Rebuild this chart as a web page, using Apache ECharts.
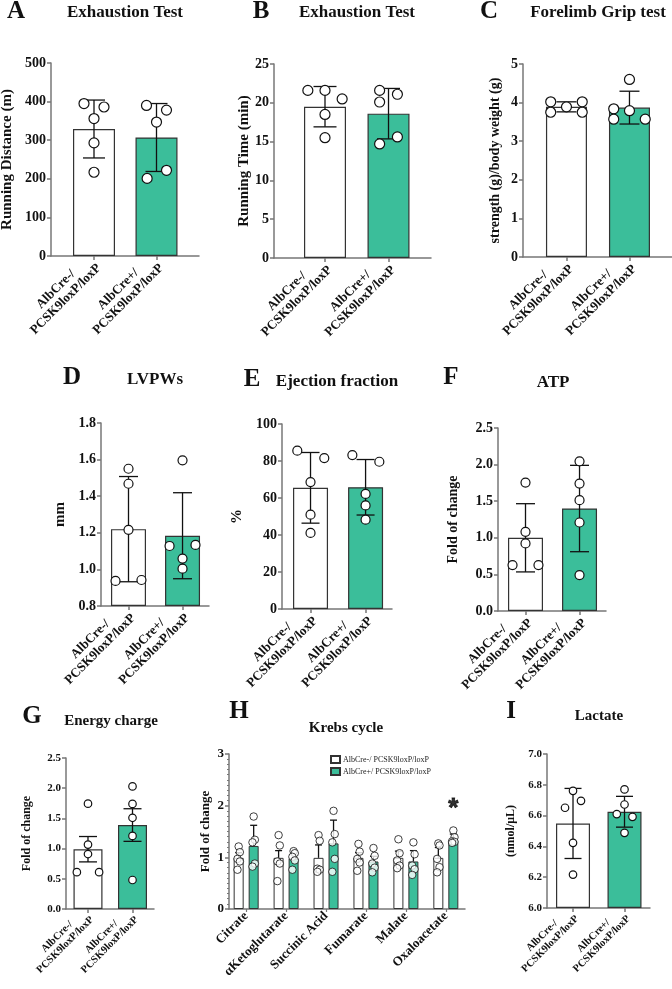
<!DOCTYPE html>
<html><head><meta charset="utf-8">
<script src="https://cdn.jsdelivr.net/npm/echarts@6/dist/echarts.min.js"></script>
<style>html,body{margin:0;padding:0;background:#fff}#c{width:672px;height:989px}</style>
</head><body><div id="c"></div>
<script>
// ---------- data ----------
const groupLine1 = ['AlbCre-/', 'AlbCre+/'];
const groupLine2 = ['PCSK9loxP/loxP', 'PCSK9loxP/loxP'];

// A: Exhaustion Test, running distance
const aMean = [329, 307];
const aSD = [75, 88];
const aPts = [[395, 386, 356, 293, 217], [390, 378, 347, 201, 222]];
const aJit = [[-0.16, 0.16, 0, 0, 0], [-0.16, 0.16, 0, -0.15, 0.16]];
// B: Exhaustion Test, running time
const bMean = [19.5, 18.6];
const bSD = [2.6, 3.25];
const bPts = [[21.6, 21.6, 20.5, 18.5, 15.5], [21.6, 20.1, 21.1, 14.7, 15.6]];
const bJit = [[-0.27, 0, 0.27, 0, 0], [-0.14, -0.14, 0.14, -0.14, 0.14]];
// C: Forelimb grip
const cMean = [3.89, 3.87];
const cSD = [0.13, 0.425];
const cPts = [[4.02, 4.02, 3.89, 3.75, 3.75], [4.6, 3.84, 3.79, 3.57, 3.57]];
const cJit = [[-0.25, 0.25, 0, -0.25, 0.25], [0, -0.25, 0, -0.25, 0.25]];
// D: LVPWs
const dMean = [1.22, 1.184];
const dSD = [0.2875, 0.235];
const dPts = [[1.55, 1.468, 1.216, 0.937, 0.942], [1.596, 1.128, 1.134, 1.059, 1.004]];
const dJit = [[0, 0, 0, -0.24, 0.24], [0, -0.24, 0.24, 0, 0]];
// E: Ejection fraction
const eMean = [65.5, 65.8];
const eSD = [19.1, 15];
const ePts = [[85.6, 81.6, 68.6, 51, 41.1], [83.2, 79.6, 62.2, 56, 48.3]];
const eJit = [[-0.24, 0.25, 0, 0, 0], [-0.24, 0.25, 0, 0, 0]];
// F: ATP
const fMean = [1.0, 1.4];
const fSD = [0.466, 0.59];
const fPts = [[1.755, 1.082, 0.923, 0.627, 0.627], [2.045, 1.741, 1.514, 1.209, 0.491]];
const fJit = [[0, 0, 0, -0.24, 0.24], [0, 0, 0, 0, 0]];
// G: Energy charge
const gMean = [0.99, 1.39];
const gSE = [0.21, 0.27];
const gPts = [[1.744, 1.067, 0.91, 0.61, 0.61], [2.03, 1.74, 1.51, 1.21, 0.48]];
const gJit = [[0, 0, 0, -0.25, 0.25], [0, 0, 0, 0, 0]];
// H: Krebs cycle
const hCats = ['Citrate', 'αKetoglutarate', 'Succinic Acid', 'Fumarate', 'Malate', 'Oxaloacetate'];
const hNames = ['AlbCre-/ PCSK9loxP/loxP', 'AlbCre+/ PCSK9loxP/loxP'];
const hMean1 = [0.99, 0.99, 0.99, 0.99, 0.99, 0.99];
const hMean2 = [1.22, 0.98, 1.27, 0.92, 0.92, 1.33];
const hErr1 = [0.1, 0.14, 0.25, 0.1, 0.13, 0.2];
const hErr2 = [0.4, 0.1, 0.45, 0.1, 0.21, 0.12];
const hPts1 = [[1.21, 1.10, 0.97, 0.92, 0.76], [1.43, 1.23, 0.92, 0.88, 0.54], [1.43, 1.32, 0.78, 0.76, 0.72],
               [1.26, 1.11, 0.97, 0.9, 0.74], [1.35, 1.08, 0.94, 0.84, 0.79], [1.27, 1.23, 0.97, 0.81, 0.71]];
const hPts2 = [[1.79, 1.34, 1.29, 0.88, 0.82], [1.12, 1.08, 1.01, 0.94, 0.76], [1.9, 1.45, 1.29, 0.97, 0.72],
               [1.18, 1.03, 0.88, 0.8, 0.71], [1.29, 1.06, 0.84, 0.77, 0.66], [1.52, 1.39, 1.31, 1.3, 1.28]];
const hJit = [0, 0.03, -0.03, 0.03, -0.03];
const hStar = [[5, 2.05]];
// I: Lactate
const iMean = [6.549, 6.625];
const iSD = [0.2275, 0.1];
const iPts = [[6.761, 6.696, 6.651, 6.423, 6.217], [6.77, 6.672, 6.61, 6.592, 6.488]];
const iJit = [[0, 0.155, -0.155, 0, 0], [0, 0, -0.15, 0.155, 0]];

// ---------- build ----------
const TEAL = '#3BBE9A';
const AXIS = '#777';
const FONT = '"Liberation Serif","Times New Roman",serif';
const grids = [], xAxes = [], yAxes = [], series = [], graphics = [];

function errRender(cap, dx, lowCap) {
  return function (params, api) {
    const x = api.value(0), lo = api.value(1), hi = api.value(2);
    const a = api.coord([x, lo]), b = api.coord([x, hi]);
    const cx = a[0] + dx;
    const st = { stroke: '#111', lineWidth: 1.3 };
    const kids = [
      { type: 'line', shape: { x1: cx, y1: a[1], x2: cx, y2: b[1] }, style: st },
      { type: 'line', shape: { x1: cx - cap / 2, y1: b[1], x2: cx + cap / 2, y2: b[1] }, style: st }
    ];
    if (lowCap) kids.push({ type: 'line', shape: { x1: cx - cap / 2, y1: a[1], x2: cx + cap / 2, y2: a[1] }, style: st });
    return { type: 'group', children: kids };
  };
}

function yAxisCfg(i, o) {
  return {
    type: 'value', gridIndex: i, min: o.yMin, max: o.yMax, interval: o.yStep, startValue: o.yMin,
    name: o.yName, nameLocation: 'middle', nameRotate: 90, nameGap: o.nameGap, nameMoveOverlap: false,
    nameTextStyle: { fontFamily: FONT, fontWeight: 'bold', fontSize: o.nameFont, color: '#111' },
    axisLine: { show: true, onZero: false, lineStyle: { color: AXIS, width: 1.5 } },
    axisTick: { show: true, length: 4, lineStyle: { color: AXIS, width: 1.5 } },
    minorTick: { show: !!o.minor, splitNumber: 10, length: 2, lineStyle: { color: AXIS, width: 1 } },
    axisLabel: { fontFamily: FONT, fontWeight: 'bold', fontSize: o.tickFont, color: '#111', margin: 5,
      formatter: v => o.dec ? v.toFixed(o.dec) : String(Math.round(v)) },
    splitLine: { show: false }
  };
}

function twoGroup(o) {
  const i = grids.length;
  grids.push({ left: o.left, top: o.top, width: o.width, height: o.height, outerBoundsMode: 'none', containLabel: false });
  xAxes.push({
    type: 'value', gridIndex: i, min: o.xMin, max: o.xMax,
    axisLine: { show: true, onZero: false, lineStyle: { color: AXIS, width: 1.5 } },
    axisTick: { show: true, customValues: [0, 1], length: 4, lineStyle: { color: AXIS, width: 1.5 } },
    axisLabel: {
      customValues: [0, 1], rotate: 45, margin: 5, hideOverlap: false,
      formatter: v => '{a|' + groupLine1[Math.round(v)] + '}\n{a|' + groupLine2[Math.round(v)] + '}',
      rich: { a: { align: 'center', fontFamily: FONT, fontWeight: 'bold', fontSize: o.xFont, color: '#111', lineHeight: o.xFont + 1 } }
    },
    splitLine: { show: false }
  });
  yAxes.push(yAxisCfg(i, o));
  series.push({
    type: 'bar', xAxisIndex: i, yAxisIndex: i, barWidth: o.barW, z: 2, name: 'bars' + i,
    data: o.mean.map((m, k) => ({ value: [k, m], itemStyle: { color: k === 0 ? '#fff' : TEAL } })),
    itemStyle: { borderColor: '#333', borderWidth: 1.2 }
  });
  series.push({
    type: 'custom', xAxisIndex: i, yAxisIndex: i, z: 3, clip: false, name: 'err' + i,
    renderItem: errRender(o.cap, 0, true), encode: { x: 0, y: [1, 2] },
    data: o.mean.map((m, k) => [k, m - o.err[k], m + o.err[k]])
  });
  const pts = [];
  o.pts.forEach((g, k) => g.forEach((v, j) => pts.push([k + o.jit[k][j], v])));
  series.push({
    type: 'scatter', xAxisIndex: i, yAxisIndex: i, z: 4, name: 'pts' + i, symbol: 'circle', symbolSize: o.sym, clip: false,
    itemStyle: { color: '#fff', borderColor: '#111', borderWidth: 1.2, opacity: 1 }, data: pts
  });
}

twoGroup({ left: 51, top: 63, width: 148, height: 193, xMin: -0.688, xMax: 1.68, yMin: 0, yMax: 500, yStep: 100,
  mean: aMean, err: aSD, pts: aPts, jit: aJit, barW: 42, cap: 22, sym: 10, yName: 'Running Distance (m)', nameGap: 36,
  nameFont: 15, tickFont: 14, xFont: 13 });
twoGroup({ left: 274, top: 64, width: 157, height: 194, xMin: -0.803, xMax: 1.669, yMin: 0, yMax: 25, yStep: 5,
  mean: bMean, err: bSD, pts: bPts, jit: bJit, barW: 42, cap: 23, sym: 10, yName: 'Running Time (min)', nameGap: 22,
  nameFont: 15, tickFont: 14, xFont: 13 });
twoGroup({ left: 523, top: 64, width: 149, height: 193, xMin: -0.69, xMax: 1.675, yMin: 0, yMax: 5, yStep: 1,
  mean: cMean, err: cSD, pts: cPts, jit: cJit, barW: 41, cap: 20, sym: 10, yName: 'strength (g)/body weight (g)', nameGap: 21,
  nameFont: 14, tickFont: 14, xFont: 13 });
twoGroup({ left: 101, top: 423, width: 108, height: 183, xMin: -0.509, xMax: 1.49, yMin: 0.8, yMax: 1.8, yStep: 0.2, dec: 1,
  mean: dMean, err: dSD, pts: dPts, jit: dJit, barW: 35, cap: 19, sym: 9, yName: 'mm', nameGap: 33,
  nameFont: 15, tickFont: 14, xFont: 13 });
twoGroup({ left: 282, top: 424, width: 110, height: 185, xMin: -0.518, xMax: 1.48, yMin: 0, yMax: 100, yStep: 20,
  mean: eMean, err: eSD, pts: ePts, jit: eJit, barW: 35, cap: 18, sym: 9, yName: '%', nameGap: 37,
  nameFont: 15, tickFont: 14, xFont: 13 });
twoGroup({ left: 498, top: 428, width: 108, height: 183, xMin: -0.509, xMax: 1.49, yMin: 0, yMax: 2.5, yStep: 0.5, dec: 1,
  mean: fMean, err: fSD, pts: fPts, jit: fJit, barW: 35, cap: 19, sym: 9, yName: 'Fold of change', nameGap: 38,
  nameFont: 14, tickFont: 14, xFont: 13 });
twoGroup({ left: 66, top: 758, width: 88, height: 151, xMin: -0.494, xMax: 1.483, yMin: 0, yMax: 2.5, yStep: 0.5, dec: 1,
  mean: gMean, err: gSE, pts: gPts, jit: gJit, barW: 29, cap: 18, sym: 7.5, yName: 'Fold of change', nameGap: 33,
  nameFont: 12, tickFont: 11, xFont: 10.5 });
twoGroup({ left: 547, top: 754, width: 103, height: 154, xMin: -0.505, xMax: 1.495, yMin: 6, yMax: 7, yStep: 0.2, dec: 1,
  mean: iMean, err: iSD, pts: iPts, jit: iJit, barW: 34, cap: 17, sym: 7.5, yName: '(nmol/μL)', nameGap: 30,
  nameFont: 12, tickFont: 11, xFont: 10.5 });

// H panel (grouped)
(function () {
  const i = grids.length;
  const o = { yMin: 0, yMax: 3, yStep: 1, yName: 'Fold of change', nameGap: 17, nameFont: 13, tickFont: 13, minor: true };
  grids.push({ left: 229, top: 754, width: 236, height: 155, outerBoundsMode: 'none', containLabel: false });
  const idx = hCats.map((c, k) => k);
  xAxes.push({
    type: 'value', gridIndex: i, min: -0.43, max: 5.48,
    axisLine: { show: true, onZero: false, lineStyle: { color: AXIS, width: 1.5 } },
    axisTick: { show: true, customValues: idx, length: 3, lineStyle: { color: AXIS, width: 1.2 } },
    axisLabel: { customValues: idx, rotate: 45, margin: 5, hideOverlap: false,
      formatter: v => hCats[Math.round(v)],
      fontFamily: FONT, fontWeight: 'bold', fontSize: 13, color: '#111' },
    splitLine: { show: false }
  });
  yAxes.push(yAxisCfg(i, o));
  const means = [hMean1, hMean2], errs = [hErr1, hErr2], ptsAll = [hPts1, hPts2];
  const off = [-7.5, 7.5];
  [0, 1].forEach(g => {
    series.push({
      type: 'bar', name: hNames[g], xAxisIndex: i, yAxisIndex: i, barWidth: 10, barGap: '50%', z: 2,
      itemStyle: { color: g === 0 ? '#fff' : TEAL, borderColor: '#333', borderWidth: 1 },
      data: means[g].map((m, k) => [k, m])
    });
  });
  [0, 1].forEach(g => {
    series.push({
      type: 'custom', xAxisIndex: i, yAxisIndex: i, z: 3, clip: false, name: 'herr' + g,
      renderItem: errRender(7, off[g], false), encode: { x: 0, y: [1, 2] },
      data: means[g].map((m, k) => [k, m, m + errs[g][k]])
    });
    const pts = [];
    ptsAll[g].forEach((arr, k) => arr.forEach((v, j) => pts.push([k + hJit[j], v])));
    series.push({
      type: 'scatter', xAxisIndex: i, yAxisIndex: i, z: 4, name: 'hpts' + g, symbol: 'circle', symbolSize: 7.5,
      symbolOffset: [off[g], 0], clip: false,
      itemStyle: { color: '#fff', borderColor: '#111', borderWidth: 1 }, data: pts
    });
  });
  series.push({
    type: 'scatter', xAxisIndex: i, yAxisIndex: i, z: 5, name: 'star', symbolSize: 1,
    itemStyle: { color: 'rgba(0,0,0,0)' }, data: hStar,
    label: { show: true, formatter: '*', position: 'inside', offset: [7.5, 6], fontFamily: '"Liberation Sans",sans-serif',
      fontWeight: 'bold', fontSize: 26, color: '#000', textBorderColor: '#000', textBorderWidth: 0.8 }
  });
})();

// titles and panel letters
function txt(x, y, t, size) {
  graphics.push({ type: 'text', x: x, y: y, style: { text: t, fill: '#111', align: 'center', verticalAlign: 'middle',
    font: 'bold ' + size + 'px ' + FONT } });
}
txt(125, 13, 'Exhaustion Test', 17); txt(16, 12, 'A', 25);
txt(357, 13, 'Exhaustion Test', 17); txt(261, 12, 'B', 25);
txt(598, 13, 'Forelimb Grip test', 17); txt(489, 12, 'C', 25);
txt(155, 380, 'LVPWs', 17); txt(72, 378, 'D', 25);
txt(337, 382, 'Ejection fraction', 17); txt(252, 380, 'E', 25);
txt(553, 383, 'ATP', 17); txt(451, 378, 'F', 25);
txt(111, 721, 'Energy charge', 15); txt(32, 717, 'G', 25);
txt(346, 728, 'Krebs cycle', 15); txt(239, 712, 'H', 25);
txt(599, 716, 'Lactate', 15); txt(511, 712, 'I', 25);

const chart = echarts.init(document.getElementById('c'), null, { renderer: 'canvas' });
chart.setOption({
  animation: false,
  backgroundColor: '#fff',
  grid: grids, xAxis: xAxes, yAxis: yAxes, series: series,
  legend: { data: hNames, left: 330, top: 755, orient: 'vertical', itemWidth: 9, itemHeight: 7, itemGap: 3, padding: 0,
    icon: 'rect', selectedMode: false,
    textStyle: { fontFamily: FONT, fontSize: 8, color: '#222', padding: [0, 0, 0, -2] } },
  graphic: graphics
});
</script></body></html>
